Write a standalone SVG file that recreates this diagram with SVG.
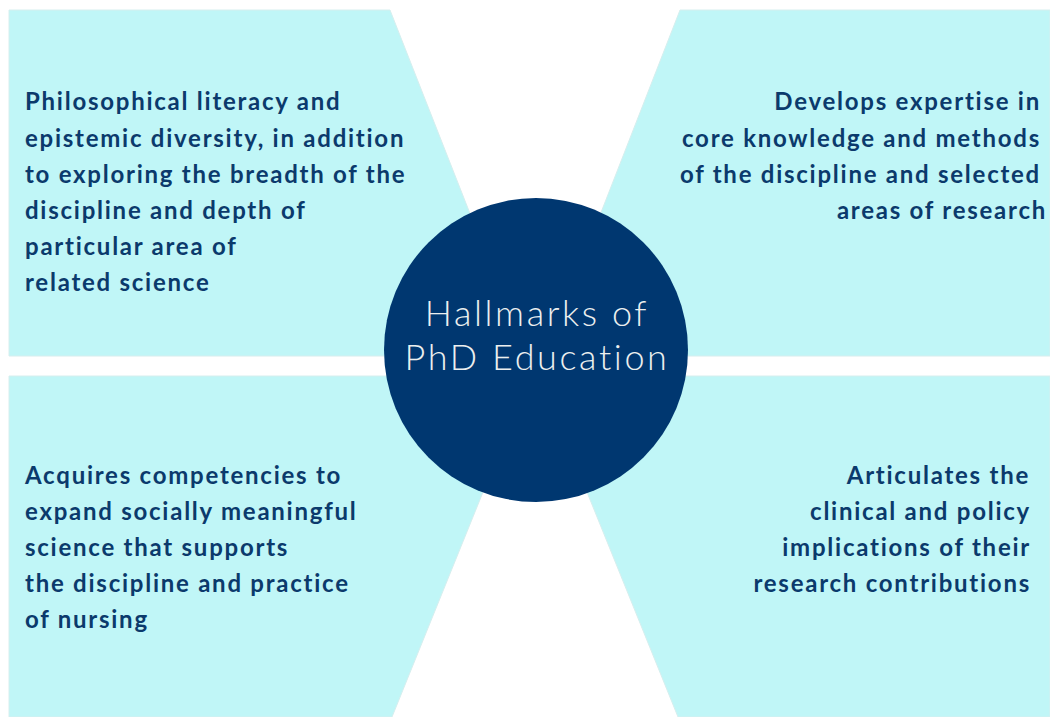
<svg xmlns="http://www.w3.org/2000/svg" width="1050" height="717" viewBox="0 0 1050 717">
<style>
.panel{fill:#c0f6f7;stroke:#d6eeee;stroke-width:1}
.t{font-family:"Lato","Liberation Sans",sans-serif;font-weight:700;font-size:24px;letter-spacing:1.75px;fill:#0b3a6c}
.r{text-anchor:end}
.hub{font-family:"Lato","Open Sans","Liberation Sans",sans-serif;font-weight:300;font-size:36px;fill:#ecefef;text-anchor:middle;letter-spacing:2.6px}
</style>
<rect width="1050" height="717" fill="#ffffff"/>
<g id="node-tl">
<polygon class="panel" points="9,10 390,10 526,356 9,356"/>
<text class="t" x="25" y="110">Philosophical literacy and</text>
<text class="t" x="25" y="147">epistemic diversity, in addition</text>
<text class="t" x="25" y="183">to exploring the breadth of the</text>
<text class="t" x="25" y="219">discipline and depth of</text>
<text class="t" x="25" y="255">particular area of</text>
<text class="t" x="25" y="291">related science</text>
</g>
<g id="node-tr">
<polygon class="panel" points="680,10 1050,10 1050,356 545,356"/>
<text class="t r" x="1041" y="110">Develops expertise in</text>
<text class="t r" x="1041" y="147">core knowledge and methods</text>
<text class="t r" x="1041" y="183">of the discipline and selected</text>
<text class="t r" x="1047" y="219">areas of research</text>
</g>
<g id="node-bl">
<polygon class="panel" points="9,376 530,376 392,717 9,717"/>
<text class="t" x="25" y="484">Acquires competencies to</text>
<text class="t" x="25" y="520">expand socially meaningful</text>
<text class="t" x="25" y="556">science that supports</text>
<text class="t" x="25" y="592">the discipline and practice</text>
<text class="t" x="25" y="628">of nursing</text>
</g>
<g id="node-br">
<polygon class="panel" points="540,376 1050,376 1050,717 678,717"/>
<text class="t r" x="1030" y="484">Articulates the</text>
<text class="t r" x="1031" y="520">clinical and policy</text>
<text class="t r" x="1031" y="556">implications of their</text>
<text class="t r" x="1031" y="592">research contributions</text>
</g>
<g id="connectors"></g>
<g id="node-hub">
<circle cx="536" cy="350" r="152" fill="#003770"/>
<text class="hub" x="537" y="326">Hallmarks of</text>
<text class="hub" x="537" y="370">PhD Education</text>
</g>
</svg>
